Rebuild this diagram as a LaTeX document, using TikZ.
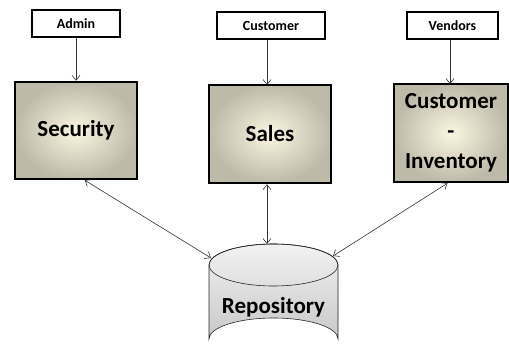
\documentclass[tikz,border=0pt]{standalone}
\usepackage{fontspec}
\setmainfont{Carlito}
\usetikzlibrary{arrows.meta,calc}
\begin{document}
\begin{tikzpicture}[x=1pt,y=-1pt,
  actor/.style={draw=black,line width=2pt,fill=white,inner sep=0pt,
    minimum height=27pt,font=\bfseries\fontsize{14}{16}\selectfont},
  module/.style={draw=black,line width=2.4pt,inner sep=0pt,
    inner color={rgb,255:red,250;green,246;blue,224},
    outer color={rgb,255:red,190;green,186;blue,170},
    font=\bfseries\fontsize{23}{30}\selectfont,align=center},
  link/.style={line width=0.6pt,draw=black!80,-{Straight Barb[length=5pt,width=8pt]}},
  both/.style={line width=0.6pt,draw=black!80,{Straight Barb[length=5pt,width=8pt]}-{Straight Barb[length=5pt,width=8pt]}}
]
\useasboundingbox (0,0) rectangle (509,361);
\node[actor,minimum width=88pt] (admin) at (76,24) {Admin};
\node[actor,minimum width=108pt] (cust) at (271,26) {Customer};
\node[actor,minimum width=91pt] (vend) at (452.5,26) {Vendors};
\node[module,minimum width=122pt,minimum height=97pt] (sec) at (76,130.5) {Security};
\node[module,minimum width=122pt,minimum height=98pt] (sales) at (270,134) {Sales};
\node[module,minimum width=114pt,minimum height=98pt] (inv) at (451,133) {Customer\\-\\Inventory};
% repository cylinder
\shade[top color={rgb,255:red,242;green,242;blue,242},bottom color={rgb,255:red,200;green,200;blue,200},draw=black!85,line width=0.6pt]
  (209,265) -- (209,339) arc[start angle=180,end angle=360,x radius=64.5,y radius=21] -- (338,265)
  arc[start angle=0,end angle=-180,x radius=64.5,y radius=21] -- cycle;
\draw[draw=black!85,line width=0.6pt] (273.5,265) ellipse[x radius=64.5,y radius=21];
\node[font=\bfseries\fontsize{23}{26}\selectfont,inner sep=0pt] (repo) at (273.5,307) {Repository};
\coordinate (repoL) at (211,258);
\coordinate (repoT) at (267,244);
\coordinate (repoR) at (333,256);
\coordinate (custOut) at (267,40);
\coordinate (salesIn) at (267,85);
\coordinate (vendOut) at (450,40);
\coordinate (invIn) at (450,84);
\draw[link] (admin.south) -- (admin.south |- sec.north);
\draw[link] (custOut) -- (salesIn);
\draw[link] (vendOut) -- (invIn);
\draw[both] ($(sec.south west)!0.57!(sec.south east)$) -- (repoL);
\draw[both] (sales.south -| repoT) -- (repoT);
\draw[both] ($(inv.south west)!0.47!(inv.south east)$) -- (repoR);
\end{tikzpicture}
\end{document}
